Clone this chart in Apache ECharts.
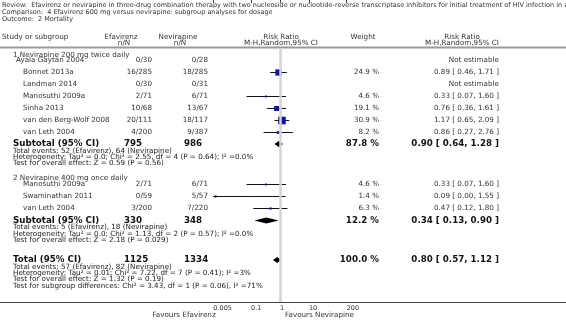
<!DOCTYPE html>
<html>
<head>
<meta charset="utf-8">
<script src="https://cdn.jsdelivr.net/npm/echarts@6/dist/echarts.min.js"></script>
<style>
html, body { margin: 0; padding: 0; background: #fff; }
#main { width: 566px; height: 320px; }
</style>
</head>
<body>
<div id="main"></div>
<script>
// study rows
var studies = ['Ayala Gaytán 2004', 'Bonnet 2013a', 'Landman 2014', 'Manosuthi 2009a', 'Sinha 2013',
    'van den Berg-Wolf 2008', 'van Leth 2004', 'Manosuthi 2009a', 'Swaminathan 2011', 'van Leth 2004'];
var efEvents = [0, 16, 0, 2, 10, 20, 4, 2, 0, 3];
var efTotal = [30, 285, 30, 71, 68, 111, 200, 71, 59, 200];
var nvEvents = [0, 18, 0, 6, 13, 18, 9, 6, 5, 7];
var nvTotal = [28, 285, 31, 71, 67, 117, 387, 71, 57, 220];
var weights = [null, 24.9, null, 4.6, 19.1, 30.9, 8.2, 4.6, 1.4, 6.3];
var rr = [null, 0.89, null, 0.33, 0.76, 1.17, 0.86, 0.33, 0.09, 0.47];
var rrLow = [null, 0.46, null, 0.07, 0.36, 0.65, 0.27, 0.07, 0.00, 0.12];
var rrHigh = [null, 1.71, null, 1.60, 1.61, 2.09, 2.76, 1.60, 1.55, 1.80];

// subgroup / total rows
var groupLabels = ['1 Nevirapine 200 mg twice daily', '2 Nevirapine 400 mg once daily'];
var pooledLabels = ['Subtotal (95% CI)', 'Subtotal (95% CI)', 'Total (95% CI)'];
var pooledEf = [795, 330, 1125];
var pooledNv = [986, 348, 1334];
var pooledWeight = [87.8, 12.2, 100.0];
var pooledRR = [0.90, 0.34, 0.80];
var pooledLow = [0.64, 0.13, 0.57];
var pooledHigh = [1.28, 0.90, 1.12];
var pooledNotes = [
    ['Total events: 52 (Efavirenz), 64 (Nevirapine)',
     'Heterogeneity: Tau² = 0.0; Chi² = 2.55, df = 4 (P = 0.64); I² =0.0%',
     'Test for overall effect: Z = 0.59 (P = 0.56)'],
    ['Total events: 5 (Efavirenz), 18 (Nevirapine)',
     'Heterogeneity: Tau² = 0.0; Chi² = 1.13, df = 2 (P = 0.57); I² =0.0%',
     'Test for overall effect: Z = 2.18 (P = 0.029)'],
    ['Total events: 57 (Efavirenz), 82 (Nevirapine)',
     'Heterogeneity: Tau² = 0.01; Chi² = 7.22, df = 7 (P = 0.41); I² =3%',
     'Test for overall effect: Z = 1.32 (P = 0.19)',
     'Test for subgroup differences: Chi² = 3.43, df = 1 (P = 0.06), I² =71%']
];
var tickValues = [0.005, 0.1, 1, 10, 200];
var tickLabels = ['0.005', '0.1', '1', '10', '200'];

var titleLines = [
    'Review:  Efavirenz or nevirapine in three-drug combination therapy with two nucleoside or nucleotide-reverse transcriptase inhibitors for initial treatment of HIV infection in antiretroviral-naive individuals',
    'Comparison:  4 Efavirenz 600 mg versus nevirapine: subgroup analyses for dosage',
    'Outcome:  2 Mortality'
];

// layout (pixel rows)
var studyY = [60.5, 72.5, 84.5, 96.5, 108.5, 120.5, 132.5, 184.5, 196.5, 208.5];
var groupY = [55, 178];
var pooledY = [144, 220.5, 260];
var axisY = 302;

var FONT = '"DejaVu Sans", Verdana, sans-serif';
var fs = 7.2;
var xMin = Math.log10(0.005), xMax = Math.log10(200);

var texts = [];
function txt(s, x, y, align, opt) {
    opt = opt || {};
    texts.push({
        type: 'text', x: x, y: y, silent: true,
        style: {
            text: s, align: align || 'left', verticalAlign: 'middle',
            font: (opt.bold ? 'bold ' : '') + (opt.size || fs) + 'px ' + FONT,
            fill: opt.color || '#333'
        }
    });
}
function f2(v) { return v.toFixed(2); }
function ciText(a, b, c) { return f2(a) + ' [ ' + f2(b) + ', ' + f2(c) + ' ]'; }

titleLines.forEach(function (s, i) { txt(s, 2, 5 + i * 7, 'left', {size: 6.5, color: '#333'}); });

txt('Study or subgroup', 2, 37);
txt('Efavirenz', 121, 37, 'center'); txt('n/N', 124, 43, 'center');
txt('Nevirapine', 178, 37, 'center'); txt('n/N', 180, 43, 'center');
txt('Risk Ratio', 281, 37, 'center'); txt('M-H,Random,95% CI', 281, 43, 'center');
txt('Weight', 363, 37, 'center');
txt('Risk Ratio', 462, 37, 'center'); txt('M-H,Random,95% CI', 462, 43, 'center');

groupLabels.forEach(function (s, i) { txt(s, 13, groupY[i]); });

studies.forEach(function (s, i) {
    txt(s, i === 0 ? 16 : 23, studyY[i]);
    txt(efEvents[i] + '/' + efTotal[i], 152, studyY[i], 'right');
    txt(nvEvents[i] + '/' + nvTotal[i], 208, studyY[i], 'right');
    if (rr[i] == null) {
        txt('Not estimable', 499, studyY[i], 'right');
    } else {
        txt(weights[i].toFixed(1) + ' %', 379, studyY[i], 'right');
        txt(ciText(rr[i], rrLow[i], rrHigh[i]), 499, studyY[i], 'right');
    }
});

pooledLabels.forEach(function (s, i) {
    var y = pooledY[i], b = {bold: true, size: 8.7, color: '#111'};
    txt(s, 13, y, 'left', b);
    txt(String(pooledEf[i]), 124, y, 'left', b);
    txt(String(pooledNv[i]), 184, y, 'left', b);
    txt(pooledWeight[i].toFixed(1) + ' %', 379, y, 'right', b);
    txt(ciText(pooledRR[i], pooledLow[i], pooledHigh[i]), 499, y, 'right', b);
    pooledNotes[i].forEach(function (n, k) { txt(n, 13, y + 7 + k * 6.3, 'left', {color: '#222'}); });
});

txt('Favours Efavirenz', 184, 315.5, 'center');
txt('Favours Nevirapine', 285, 315.5, 'left');

var lines = [
    {type: 'line', silent: true, shape: {x1: 0, y1: 47.5, x2: 566, y2: 47.5}, style: {stroke: '#9a9a9a', lineWidth: 2}},
    {type: 'line', silent: true, shape: {x1: 0, y1: axisY + 0.5, x2: 566, y2: axisY + 0.5}, style: {stroke: '#444', lineWidth: 1}}
];

// marks
var studyData = [];
rr.forEach(function (v, i) {
    if (v == null) return;
    var lo = rrLow[i] > 0 ? Math.max(Math.log10(rrLow[i]), xMin) : xMin;
    var clipped = rrLow[i] > 0 && Math.log10(rrLow[i]) >= xMin ? 0 : 1;
    studyData.push([Math.log10(v), studyY[i], lo, Math.log10(rrHigh[i]), weights[i], clipped]);
});
var pooledData = pooledRR.map(function (v, i) {
    return [Math.log10(v), pooledY[i], Math.log10(pooledLow[i]), Math.log10(pooledHigh[i])];
});

function squareSide(w) { return Math.max(1, 0.22 * w + 0.8); }

var myChart = echarts.init(document.getElementById('main'), null, {renderer: 'canvas'});
var option = {
    animation: false,
    backgroundColor: '#fff',
    grid: {left: 213.3, right: 566 - 346.7, top: 0, bottom: 320 - axisY, containLabel: false},
    xAxis: {
        type: 'value', min: xMin, max: xMax,
        splitLine: {show: false},
        axisLine: {show: false},
        axisTick: {show: true, length: 3, lineStyle: {color: '#444'},
            customValues: tickValues.map(function (v) { return Math.log10(v); })},
        axisLabel: {
            customValues: tickValues.map(function (v) { return Math.log10(v); }),
            align: 'left', margin: 3, color: '#333', fontSize: 6.5, fontFamily: FONT,
            formatter: function (v) {
                var best = 0;
                tickValues.forEach(function (t, k) {
                    if (Math.abs(Math.log10(t) - v) < Math.abs(Math.log10(tickValues[best]) - v)) best = k;
                });
                return tickLabels[best];
            }
        }
    },
    yAxis: {type: 'value', min: 0, max: axisY, inverse: true, show: false},
    graphic: lines.concat(texts),
    series: [
        {
            type: 'custom', data: pooledData, clip: false, z: 3,
            renderItem: function (params, api) {
                var c = api.coord([api.value(0), api.value(1)]);
                var l = api.coord([api.value(2), api.value(1)]);
                var h = api.coord([api.value(3), api.value(1)]);
                var hh = 3;
                return {
                    type: 'polygon',
                    shape: {points: [[l[0], c[1]], [c[0], c[1] - hh], [h[0], c[1]], [c[0], c[1] + hh]]},
                    style: {fill: '#000'}
                };
            },
            markLine: {
                silent: true, symbol: 'none', label: {show: false},
                lineStyle: {color: '#d4d4d4', width: 2.5, type: 'solid'},
                data: [[{coord: [0, 48]}, {coord: [0, axisY]}]]
            }
        },
        {
            type: 'custom', data: studyData, clip: false, z: 4,
            renderItem: function (params, api) {
                var c = api.coord([api.value(0), api.value(1)]);
                var l = api.coord([api.value(2), api.value(1)]);
                var h = api.coord([api.value(3), api.value(1)]);
                var s = squareSide(api.value(4));
                var kids = [
                    {type: 'line', shape: {x1: l[0], y1: c[1], x2: h[0], y2: c[1]}, style: {stroke: '#111', lineWidth: 1}},
                    {type: 'rect', shape: {x: c[0] - s / 2, y: c[1] - s / 2, width: s, height: s}, style: {fill: '#1010b8'}}
                ];
                if (api.value(5)) {
                    kids.push({type: 'polygon', shape: {points: [[l[0], c[1]], [l[0] + 3, c[1] - 1.6], [l[0] + 3, c[1] + 1.6]]}, style: {fill: '#111'}});
                }
                return {type: 'group', children: kids};
            }
        }
    ]
};
myChart.setOption(option);
</script>
</body>
</html>
